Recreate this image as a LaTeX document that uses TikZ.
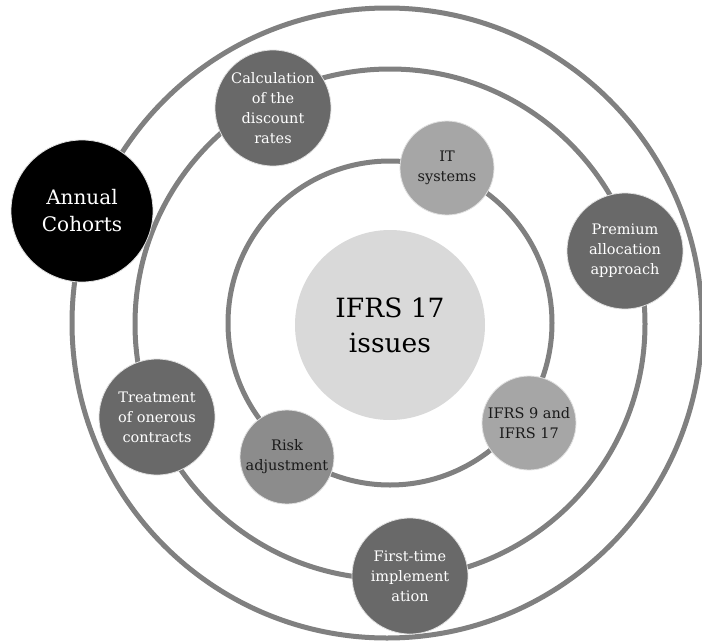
\documentclass[tikz,border=0pt]{standalone}
\usepackage{fontspec}
\setmainfont{DejaVu Serif}
\definecolor{ringgray}{HTML}{808080}
\definecolor{nodedark}{HTML}{696969}
\definecolor{nodemid}{HTML}{8C8C8C}
\definecolor{nodelight}{HTML}{A6A6A6}
\definecolor{coregray}{HTML}{D9D9D9}
\definecolor{textdark}{HTML}{1A1A1A}
\begin{document}
\begin{tikzpicture}[x=1pt,y=-1pt,
  ring/.style={draw=ringgray,line width=5pt},
  bubble/.style={circle,inner sep=0pt,align=center,draw=white!88!black,line width=0.8pt},
  darkbubble/.style={bubble,fill=nodedark,text=white,minimum size=116pt,font=\fontsize{14.5}{20}\selectfont},
  lightbubble/.style={bubble,fill=nodelight,text=textdark,minimum size=94pt,font=\fontsize{14.5}{20}\selectfont},
  midbubble/.style={bubble,fill=nodemid,text=textdark,minimum size=94pt,font=\fontsize{14.5}{20}\selectfont}
]
\useasboundingbox (0,0) rectangle (702,643);
\fill[white] (0,0) rectangle (702,643);
% rings
\draw[ring] (387,323) circle[radius=315];
\draw[ring] (390,324) circle[radius=255];
\draw[ring] (390,323) circle[radius=162];
% core
\node[circle,inner sep=0pt,fill=coregray,minimum size=190pt,align=center,text=black,
  font=\fontsize{26.5}{35}\selectfont] (core) at (390,325) {IFRS 17\\issues};
% bubbles
\node[bubble,fill=black,text=white,minimum size=142pt,font=\fontsize{20}{27}\selectfont]
  (cohorts) at (82,211) {Annual\\Cohorts};
\node[darkbubble] (discount) at (273,108) {Calculation\\of the\\discount\\rates};
\node[lightbubble] (it) at (447,168) {IT\\systems};
\node[darkbubble] (premium) at (625,251) {Premium\\allocation\\approach};
\node[darkbubble] (onerous) at (157,417) {Treatment\\of onerous\\contracts};
\node[midbubble] (risk) at (287,457) {Risk\\adjustment};
\node[lightbubble] (ifrs9) at (529,423) {IFRS 9 and\\IFRS 17};
\node[darkbubble] (firsttime) at (410,576) {First-time\\implement\\ation};
\end{tikzpicture}
\end{document}
